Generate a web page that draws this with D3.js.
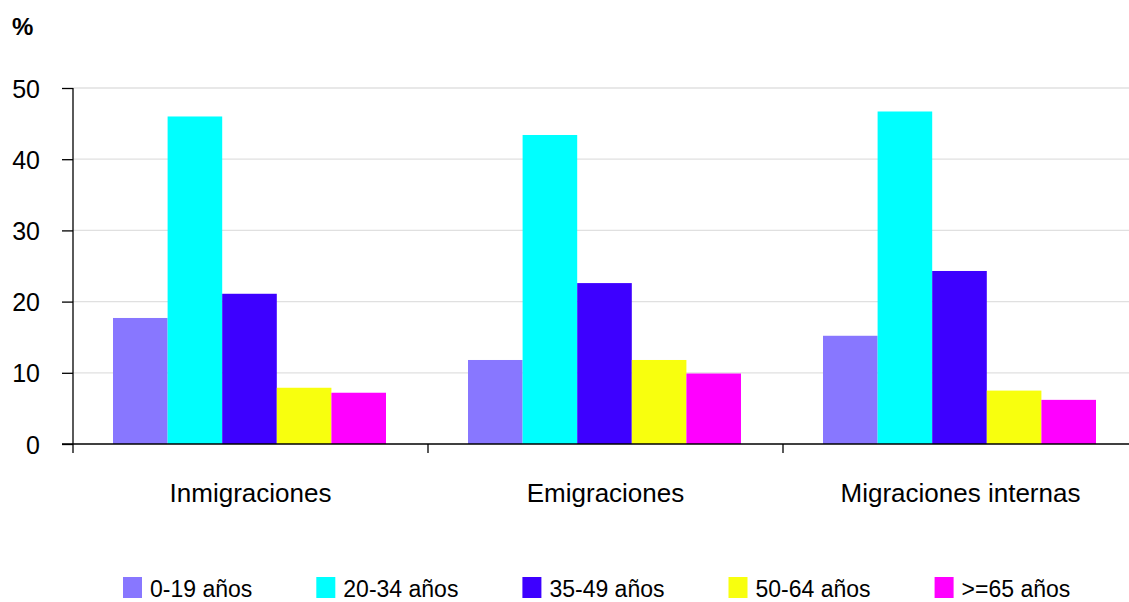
<!DOCTYPE html>
<html><head><meta charset="utf-8">
<script src="https://cdn.jsdelivr.net/npm/d3@7/dist/d3.min.js"></script>
<style>body{margin:0;background:#fff}svg{display:block}text{font-family:"Liberation Sans",Arial,sans-serif}</style>
</head><body><svg id="c" width="1129" height="602"></svg>
<script>
const categories = ["Inmigraciones", "Emigraciones", "Migraciones internas"];
const seriesNames = ["0-19 años", "20-34 años", "35-49 años", "50-64 años", ">=65 años"];
const age0_19  = [17.7, 11.8, 15.2];
const age20_34 = [46.0, 43.4, 46.7];
const age35_49 = [21.1, 22.6, 24.3];
const age50_64 = [7.9, 11.8, 7.5];
const age65    = [7.2, 9.9, 6.2];
const seriesValues = [age0_19, age20_34, age35_49, age50_64, age65];
const colors = ["#8877ff", "#00ffff", "#3d00ff", "#f8ff0e", "#ff00ff"];
const yTicks = [0, 10, 20, 30, 40, 50];

const svg = d3.select("#c");
const mLeft = 73, mRight = 1138, mTop = 88, mBottom = 444;
const y = d3.scaleLinear().domain([0, 50]).range([mBottom, mTop]);
const x0 = d3.scaleBand().domain(categories).range([mLeft, mRight]).paddingInner(0).paddingOuter(0);
const x1 = d3.scaleBand().domain(d3.range(seriesNames.length)).range([40, x0.bandwidth() - 42]).padding(0);

// grid
svg.append("g").selectAll("line").data(yTicks.filter(d => d > 0)).join("line")
  .attr("x1", mLeft).attr("x2", mRight).attr("y1", d => y(d)).attr("y2", d => y(d))
  .attr("stroke", "#e0e0e0").attr("stroke-width", 1.3);

// bars
const g = svg.append("g");
categories.forEach((c, ci) => {
  seriesValues.forEach((vals, si) => {
    g.append("rect")
      .attr("x", x0(c) + x1(si)).attr("width", x1.bandwidth())
      .attr("y", y(vals[ci])).attr("height", y(0) - y(vals[ci]))
      .attr("fill", colors[si]);
  });
});

// y axis
const yAxis = d3.axisLeft(y).tickValues(yTicks).tickSize(11).tickPadding(10);
const ya = svg.append("g").attr("transform", `translate(${mLeft},0)`).call(yAxis);
ya.select(".domain").attr("d", `M0,${mTop}V${mBottom + 9}`).attr("stroke", "#000").attr("stroke-width", 1.3);
ya.selectAll(".tick line").attr("stroke", "#000").attr("stroke-width", 1.3);
ya.selectAll(".tick text").attr("font-size", 25).attr("fill", "#000")
  .attr("font-family", '"Liberation Sans",Arial,sans-serif').attr("dy", "0.36em").attr("x", -33);

// x axis
const xa = svg.append("g").attr("transform", `translate(0,${mBottom})`);
xa.append("line").attr("x1", mLeft - 11).attr("x2", mRight).attr("y1", 0).attr("y2", 0)
  .attr("stroke", "#000").attr("stroke-width", 1.5);
xa.selectAll("line.tk").data(categories.slice(1)).join("line").attr("class", "tk")
  .attr("x1", d => x0(d)).attr("x2", d => x0(d)).attr("y1", 0).attr("y2", 9)
  .attr("stroke", "#000").attr("stroke-width", 1.3);
xa.selectAll("text").data(categories).join("text")
  .attr("x", d => x0(d) + x0.bandwidth() / 2).attr("y", 58)
  .attr("text-anchor", "middle").attr("font-size", 26).attr("fill", "#000").text(d => d);

// % label
svg.append("text").attr("x", 12).attr("y", 35).attr("font-size", 24).attr("font-weight", "bold").text("%");

// legend
const lg = svg.append("g");
let lx = 123;
seriesNames.forEach((n, i) => {
  lg.append("rect").attr("x", lx).attr("y", 577).attr("width", 19).attr("height", 21).attr("fill", colors[i]);
  const t = lg.append("text").attr("x", lx + 27).attr("y", 597).attr("font-size", 23).attr("fill", "#000").text(n);
  const w = t.node().getComputedTextLength();
  lx = lx + 27 + w + 64;
});
</script></body></html>
